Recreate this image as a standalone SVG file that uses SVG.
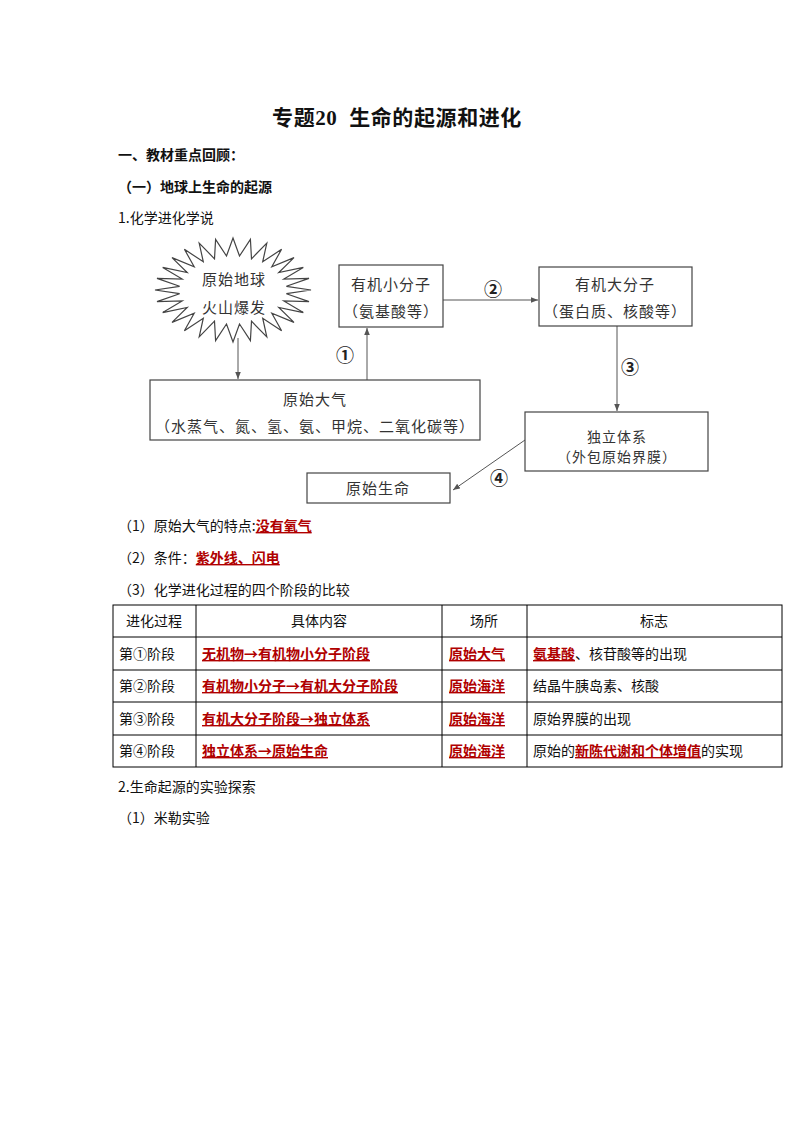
<svg xmlns="http://www.w3.org/2000/svg" width="794" height="1123" viewBox="0 0 794 1123">
<style>
text{font-family:"Noto Sans CJK SC","Liberation Sans",sans-serif;fill:#111;}
.t{font-family:"Liberation Serif","Noto Sans CJK SC",serif;font-weight:bold;font-size:21px;letter-spacing:0.6px;}
.h{font-size:14px;font-weight:bold;}
.b{font-size:14px;}
.d{font-size:15px;letter-spacing:1px;fill:#333;}
.ds{font-size:14px;letter-spacing:1px;fill:#333;}
.n{font-size:18px;font-weight:bold;fill:#222;}
.r{fill:#b00000;font-weight:bold;text-decoration:underline;}
.box{fill:#fff;stroke:#444;stroke-width:1.2;}
.ln{stroke:#555;stroke-width:1;fill:none;}
.tb{stroke:#000;stroke-width:1;fill:none;}
</style>
<defs>
<marker id="ah" viewBox="0 0 10 10" refX="10" refY="5" markerWidth="7" markerHeight="7" orient="auto" markerUnits="userSpaceOnUse">
<path d="M0,1 L10,5 L0,9 z" fill="#555"/>
</marker>
</defs>
<rect width="794" height="1123" fill="#fff"/>
<text class="t" x="397" y="125" text-anchor="middle" xml:space="preserve">专题20  生命的起源和进化</text>
<text class="h" x="118" y="160">一、教材重点回顾：</text>
<text class="h" x="118" y="192">（一）地球上生命的起源</text>
<text class="b" x="118" y="223">1.化学进化学说</text>

<g id="connectors">
<line class="ln" x1="238" y1="338" x2="238" y2="379" marker-end="url(#ah)"/>
<line class="ln" x1="367" y1="380" x2="367" y2="328" marker-end="url(#ah)"/>
<line class="ln" x1="443" y1="300" x2="538" y2="300" marker-end="url(#ah)"/>
<line class="ln" x1="617" y1="326" x2="617" y2="411" marker-end="url(#ah)"/>
<line class="ln" x1="525" y1="440" x2="453" y2="490" marker-end="url(#ah)"/>
<text class="n" x="345" y="362" text-anchor="middle">①</text>
<text class="n" x="493" y="296" text-anchor="middle">②</text>
<text class="n" x="630" y="374" text-anchor="middle">③</text>
<text class="n" x="499" y="485" text-anchor="middle">④</text>
</g>

<g id="node-earth">
<polygon class="box" points="311,290 286.4,293.7 309,301.6 283.8,300.9 303.3,312.6 278.8,307.5 294,322.4 271.8,313.3 281.6,330.7 262.7,318.2 266.8,336.9 251.5,321.2 250.4,340.7 239.5,324 233,342 226.5,324 215.6,340.7 214.5,321.2 199.2,336.9 203.3,318.2 184.4,330.7 194.2,313.3 172,322.4 187.2,307.5 162.7,312.6 182.2,300.9 157,301.6 179.6,293.7 155,290 179.6,286.3 157,278.4 182.2,279.1 162.7,267.4 187.2,272.5 172,257.6 194.2,266.7 184.4,249.3 203.3,261.8 199.2,243.1 214.5,258.8 215.6,239.3 226.5,256 233,238 239.5,256 250.4,239.3 251.5,258.8 266.8,243.1 262.7,261.8 281.6,249.3 271.8,266.7 294,257.6 278.8,272.5 303.3,267.4 283.8,279.1 309,278.4 286.4,286.3"/>
<text class="d" x="234" y="285" text-anchor="middle">原始地球</text>
<text class="d" x="234" y="313" text-anchor="middle">火山爆发</text>
</g>

<g id="node-small">
<rect class="box" x="339" y="265" width="104" height="62"/>
<text class="d" x="391" y="290" text-anchor="middle">有机小分子</text>
<text class="d" x="391" y="317" text-anchor="middle">（氨基酸等）</text>
</g>

<g id="node-large">
<rect class="box" x="539" y="267" width="153" height="59"/>
<text class="d" x="615" y="290" text-anchor="middle">有机大分子</text>
<text class="d" x="615" y="317" text-anchor="middle">（蛋白质、核酸等）</text>
</g>

<g id="node-atmos">
<rect class="box" x="150" y="380" width="330" height="60"/>
<text class="d" x="315" y="405" text-anchor="middle">原始大气</text>
<text class="d" x="315" y="432" text-anchor="middle">（水蒸气、氮、氢、氨、甲烷、二氧化碳等）</text>
</g>

<g id="node-indep">
<rect class="box" x="525" y="412" width="183" height="59"/>
<text class="ds" x="617" y="442" text-anchor="middle">独立体系</text>
<text class="ds" x="617" y="462" text-anchor="middle">（外包原始界膜）</text>
</g>

<g id="node-life">
<rect class="box" x="307" y="473" width="143" height="30"/>
<text class="d" x="378" y="494" text-anchor="middle">原始生命</text>
</g>

<text class="b" x="118" y="531">（1）原始大气的特点:<tspan class="r">没有氧气</tspan></text>
<text class="b" x="118" y="563">（2）条件：<tspan class="r">紫外线、闪电</tspan></text>
<text class="b" x="118" y="595">（3）化学进化过程的四个阶段的比较</text>

<g id="table">
<rect class="tb" x="113" y="605" width="669" height="162"/>
<line class="tb" x1="113" y1="637" x2="782" y2="637"/>
<line class="tb" x1="113" y1="670" x2="782" y2="670"/>
<line class="tb" x1="113" y1="702" x2="782" y2="702"/>
<line class="tb" x1="113" y1="735" x2="782" y2="735"/>
<line class="tb" x1="196" y1="605" x2="196" y2="767"/>
<line class="tb" x1="442" y1="605" x2="442" y2="767"/>
<line class="tb" x1="527" y1="605" x2="527" y2="767"/>
<text class="b" x="154" y="626" text-anchor="middle">进化过程</text>
<text class="b" x="319" y="626" text-anchor="middle">具体内容</text>
<text class="b" x="484" y="626" text-anchor="middle">场所</text>
<text class="b" x="654" y="626" text-anchor="middle">标志</text>

<text class="b" x="119" y="659">第①阶段</text>
<text class="b r" x="202" y="659">无机物→有机物小分子阶段</text>
<text class="b r" x="449" y="659">原始大气</text>
<text class="b" x="533" y="659"><tspan class="r">氨基酸</tspan>、核苷酸等的出现</text>

<text class="b" x="119" y="691">第②阶段</text>
<text class="b r" x="202" y="691">有机物小分子→有机大分子阶段</text>
<text class="b r" x="449" y="691">原始海洋</text>
<text class="b" x="533" y="691">结晶牛胰岛素、核酸</text>

<text class="b" x="119" y="724">第③阶段</text>
<text class="b r" x="202" y="724">有机大分子阶段→独立体系</text>
<text class="b r" x="449" y="724">原始海洋</text>
<text class="b" x="533" y="724">原始界膜的出现</text>

<text class="b" x="119" y="756">第④阶段</text>
<text class="b r" x="202" y="756">独立体系→原始生命</text>
<text class="b r" x="449" y="756">原始海洋</text>
<text class="b" x="533" y="756">原始的<tspan class="r">新陈代谢和个体增值</tspan>的实现</text>
</g>

<text class="b" x="118" y="792">2.生命起源的实验探索</text>
<text class="b" x="118" y="823">（1）米勒实验</text>
</svg>
